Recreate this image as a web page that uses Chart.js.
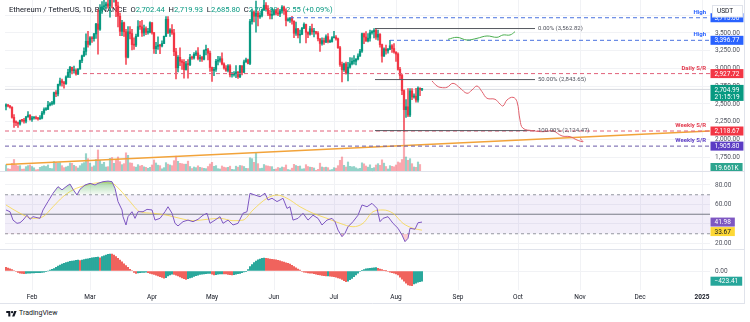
<!DOCTYPE html>
<html>
<head>
<meta charset="utf-8">
<script src="https://cdn.jsdelivr.net/npm/chart.js@4.4.1/dist/chart.umd.min.js"></script>
<style>
  body { margin: 0; background: #fff; }
  #wrap { position: relative; width: 750px; height: 322px; overflow: hidden; font-family: Roboto, sans-serif; }
  #wrap canvas { position: absolute; left: 0; }
  #logo { position: absolute; left: 6px; top: 309px; font-size: 7px; color: #131722; display: flex; align-items: center; gap: 2px; line-height: 8px; }
</style>
</head>
<body>
<div id="wrap">
  <canvas id="priceChart" width="750" height="172" style="top:0"></canvas>
  <canvas id="rsiChart" width="750" height="78" style="top:172px"></canvas>
  <canvas id="macdChart" width="750" height="54" style="top:250px"></canvas>
  <div id="logo"><svg width="11" height="7" viewBox="0 0 36 24"><path d="M14 22H7V10H0V3h14v19zM28 22h-8l7.5-19h8L28 22z" fill="#131722"/><circle cx="20" cy="7" r="4" fill="#131722"/></svg>TradingView</div>
</div>
<script>
// ETH/USDT daily candles, Jan 19 - Aug 14 2024. Day numbers count from Jan 1 = 0
var firstDay = 18;
var prevClose = 2467; // Jan 18 close = open of the first candle
var closes = [
  2489,2470,2455,2311,2241,2236,2218,2268,2267,2257,2317,2344,2283,
  2304,2309,2296,2289,2300,2373,2421,2425,2485,2501,2508,2660,2641,2776,2825,2802,2786,2881,2945,3015,2969,2972,2922,2992,3112,3178,3241,3383,3340,
  3433,3420,3487,3627,3552,3818,3868,3884,3910,3879,4066,3982,4004,3881,3737,3523,3644,3517,3158,3516,3492,3336,3329,3454,3590,3587,3500,3561,3508,3509,3645,
  3504,3279,3311,3330,3317,3352,3454,3694,3505,3544,3501,3236,3009,3157,3102,3086,2985,3066,3055,3155,3147,3200,3219,3140,3155,3130,3256,3263,3215,3014,
  2972,2988,3102,3117,3137,3063,3006,2973,3037,2910,2912,2930,2950,2882,3036,2946,3093,3122,3071,3662,3790,3737,3780,3727,3748,3826,3892,3842,3768,3748,3761,
  3815,3780,3768,3811,3865,3812,3677,3681,3706,3667,3497,3560,3469,3482,3566,3621,3510,3483,3560,3515,3518,3497,3418,3353,3393,3372,3449,3376,3379,3433,
  3441,3418,3293,3056,2982,3066,2931,3019,3066,3101,3101,3132,3175,3245,3490,3443,3388,3427,3505,3517,3536,3441,3480,3336,3174,3275,3248,3271,3320,3281,3232,
  3203,2988,2902,2688,2419,2460,2343,2683,2598,2610,2555,2722,2702.44,2704.99
];
var highs = [
  2503,2490,2479,2461,2350,2262,2245,2272,2285,2296,2324,2392,2348,
  2326,2320,2330,2313,2336,2395,2445,2450,2537,2520,2537,2666,2687,2781,2865,2852,2820,2895,2988,3030,3020,3035,2994,3000,3118,3190,3290,3487,3523,
  3450,3449,3497,3637,3825,3900,3943,3995,3937,3963,4087,4093,4083,4010,3935,3780,3680,3653,3550,3590,3590,3551,3431,3484,3675,3665,3680,3612,3586,3567,3658,
  3647,3511,3370,3445,3340,3390,3457,3730,3730,3562,3618,3552,3285,3180,3290,3125,3125,3100,3125,3200,3176,3225,3250,3293,3190,3170,3262,3330,3285,3245,
  3020,3015,3130,3170,3169,3220,3080,3040,3055,3055,2945,2955,3040,2955,3045,3040,3120,3145,3134,3692,3832,3812,3950,3810,3788,3835,3975,3930,3888,3820,3850,
  3835,3830,3850,3832,3887,3880,3840,3715,3720,3735,3672,3655,3565,3540,3580,3645,3625,3515,3595,3625,3565,3525,3520,3420,3432,3430,3475,3490,3405,3448,
  3524,3464,3430,3312,3090,3075,3090,3085,3155,3150,3180,3140,3208,3270,3500,3500,3520,3490,3540,3535,3562,3562,3540,3490,3345,3290,3330,3285,3397,3335,3350,
  3235,3220,3015,2920,2700,2560,2715,2718,2715,2643,2720,2740,2728,2719.93
];
var lows = [
  2415,2457,2440,2301,2168,2193,2170,2200,2248,2229,2233,2315,2270,
  2255,2284,2287,2270,2282,2290,2351,2408,2420,2474,2482,2495,2601,2613,2753,2750,2721,2776,2870,2870,2924,2935,2905,2911,2990,3083,3165,3190,3300,
  3330,3367,3384,3425,3200,3538,3777,3830,3845,3850,3724,3852,3935,3730,3585,3464,3462,3451,3056,3150,3415,3261,3270,3307,3453,3550,3450,3460,3475,3485,3500,
  3484,3212,3207,3270,3210,3305,3350,3447,3490,3450,3480,3180,2852,2950,3040,2985,2865,2975,2865,3040,3126,3130,3180,3120,3100,3100,3120,3190,3120,2960,
  2817,2900,2960,3050,3090,3050,2990,2960,2950,2880,2879,2890,2870,2860,2870,2910,2942,3085,3065,3055,3625,3655,3510,3600,3705,3725,3820,3830,3744,3700,3700,
  3750,3755,3745,3730,3780,3762,3600,3665,3650,3625,3435,3465,3430,3360,3475,3560,3360,3435,3470,3480,3445,3482,3390,3240,3330,3340,3364,3360,3362,3372,
  3430,3400,3282,3030,2810,2960,2920,2825,3005,3050,3060,3051,3120,3170,3225,3350,3380,3375,3385,3485,3432,3410,3400,3300,3088,3170,3200,3215,3265,3225,3215,
  3100,2975,2850,2630,2111,2310,2320,2320,2560,2580,2525,2525,2615,2685.80
];
// volume, thousand ETH
var volumes = [
  430,200,170,520,750,420,360,380,170,180,320,380,420,
  330,250,130,150,280,330,370,330,420,220,200,630,560,540,560,380,260,300,350,540,520,400,330,240,380,500,560,1100,800,
  530,300,370,750,1320,700,470,580,300,320,820,870,520,720,900,620,440,500,1150,1000,550,530,320,290,440,360,400,310,280,220,280,
  420,720,540,410,380,190,260,560,470,420,380,680,950,640,520,500,470,470,650,330,210,300,260,370,280,250,220,200,330,480,
  580,340,380,200,180,360,290,260,280,350,160,140,350,290,390,370,330,220,210,850,800,580,1150,500,210,230,450,380,360,330,320,
  160,180,270,230,300,270,420,150,120,230,460,390,340,360,180,200,440,330,290,280,240,100,160,530,300,270,290,260,120,150,
  260,230,380,700,900,400,300,600,340,310,330,250,190,220,550,490,360,290,430,220,260,420,500,400,730,530,330,180,380,340,310,
  420,600,550,750,2400,900,700,800,500,300,280,600,450,19.661
];
var macdHist = [
  150,120,90,60,20,-20,-60,-90,-105,-110,
  -100,-95,-85,-80,-75,-72,-68,-65,-55,-45,
  -25,0,40,70,100,150,200,250,285,315,
  345,375,400,415,425,440,455,430,450,470,
  490,510,530,545,555,565,575,550,600,630,
  660,690,705,700,660,600,530,456,380,300,
  220,150,70,20,-60,-96,-80,-69,-60,-55,
  -50,-70,-100,-120,-140,-170,-205,-235,-265,-300,
  -280,-207,-165,-130,-140,-175,-207,-250,-290,-320,
  -346,-320,-290,-263,-230,-195,-170,-145,-130,-120,
  -110,-100,-96,-130,-160,-150,-135,-124,-118,-122,
  -125,-140,-155,-166,-150,-130,-110,-96,-70,-40,
  -10,60,180,270,350,410,460,498,525,540,
  530,515,498,485,470,460,445,420,395,365,
  340,315,290,240,180,130,80,42,-20,-45,
  -60,-75,-85,-95,-110,-130,-150,-166,-180,-195,
  -207,-200,-210,-220,-240,-260,-285,-304,-350,-400,
  -443,-420,-360,-304,-240,-160,-90,-20,30,60,
  85,100,111,125,135,138,110,83,60,30,
  5,-20,-45,-65,-90,-120,-166,-260,-340,-420,
  -500,-581,-600,-609,-540,-500,-465,-440,-423.41
];
var rsiDays = [18,20,21.5,23.5,25,26.5,28.5,30,31.5,35,36.5,39,41.5,44,46,48.5,50,51.5,53.5,55,57.5,60,62.5,64,66.5,69,71,72.5,74,76,76.5,78,79,81,82.5,84,86.5,88.5,91,92.5,95,97.5,99,101,102.5,104,106.5,109,111.5,114,116.5,118.5,120,122.5,125,126.5,129,131.5,134,136.5,138.5,140,142.5,145,147.5,149,151,153.5,155,156.5,158.5,160,161.5,164,166.5,169,171.5,174,176,178.5,181,182.5,184,186,187.5,189,191.5,194,196,198.5,201,203.5,205,206.5,209,211.5,214,216,217.5,219,220,222.5,224,226];
var rsiValues = [54.4,52.6,44,40.7,41.3,44,49,44.8,47.5,45.8,54.4,63,71.5,78.3,75,79,81,75.6,69.7,75.6,80,81.7,80,81.7,83.4,84,83.4,76.6,63,54.4,47.5,39,47.5,52.6,45.8,52.6,52.6,55,54.4,44,45.8,52.6,57.7,51,40.7,38,42.4,44,42.4,44.8,49,51,40.7,44,47.5,40.7,44,39,40.7,51,52.6,71.5,69.7,68,71.5,64.6,66.4,63,64.6,66.4,56,57.7,44,45.8,51,44,49,45.8,39,44,45.8,42.4,33.8,27,30.5,37.2,42.4,49,59.5,57.7,61.2,56,42.4,45.8,47.5,40.7,35.6,28.7,21.9,25.3,35.6,34.6,41.3,41.98];
var rsiMaDays = [18,25,31.5,36.5,41.5,46.5,51.5,58.5,65,71,75,80,85,91.5,98.5,105,111.5,118.5,125,131.5,136.5,141.5,148.5,153.5,158.5,165,171.5,178.5,185,191.5,196.5,201.5,206.5,211.5,216.5,221.5,226];
var rsiMaValues = [59.5,51,45.8,47.5,57.7,68,75,80,82.4,81.7,75,63,52.6,51,49,45.8,43.4,44.8,45.8,43.4,44,54.4,66.4,69.7,66.4,57.7,51,45.8,40.7,37.2,40.7,52.6,54.4,51,40.7,35.6,33.67];
var rsiLevels = [70, 50, 30];

var monthDays = [31,60,91,121,152,182,213,244,274,305,335,366];
var monthLabels = ["Feb","Mar","Apr","May","Jun","Jul","Aug","Sep","Oct","Nov","Dec","2025"];
var priceTicks = [1750,2000,2250,2500,2750,3000,3250,3500,3750];
var rsiTicks = [20,40,60,80];
var macdTicks = [0];

// drawn levels
var levelPrices = [3715, 3396.77, 2927.72, 2118.67, 1905.80];
var levelNames = ["High", "High", "Daily S/R", "Weekly S/R", "Weekly S/R"];
var levelStartDays = [160, 210, 56.5, 17.5, 17.5];
var fibPrices = [3562.82, 2843.65, 2124.47];
var fibNames = ["0.00%", "50.00%", "100.00%"];
var fibDays = [202.5, 282.5];
var trendDays = [18, 370];
var trendPrices = [1647, 2119];
var pathDays = [231,233.5,235.5,238.5,241.5,245,248.5,251,253.5,256,258.5,262.5,265,266.5,268.5,271.5,273.5,275,276.5,281.5,286.5,291.5,296,300,303.5,306.5,305];
var pathPrices = [2824,2753,2732,2735,2791,2725,2650,2697,2753,2673,2580,2566,2499,2471,2556,2594,2532,2274,2157,2123,2109,2119,2049,2039,1992,1968,2013];
var greenDays = [239,243.5,248.5,253.5,258.5,263.5,266.5,270,272.5];
var greenPrices = [3411,3439,3401,3425,3458,3439,3472,3472,3518];
var countdown = "21:15:19";

var FONT = 'Roboto, "Noto Sans", sans-serif';
var UP = '#089981', DOWN = '#f23645';
var levelLineColors = ['#4a72e0', '#4a72e0', '#e2607a', '#e2607a', '#6a5aa8'];
var levelTagColors = ['#2962ff', '#2962ff', '#f23645', '#f23645', '#5b3cc4'];
var levelTextColors = ['#2962ff', '#2962ff', '#e23a4e', '#e23a4e', '#5b3cc4'];
var X_MIN = 17.5, X_MAX = 370;

Chart.defaults.font.family = FONT;
Chart.defaults.font.size = 6.5;
Chart.defaults.color = '#50535e';

var opens = closes.map(function (c, i) { return i === 0 ? prevClose : closes[i - 1]; });
var last = closes.length - 1;
function isUp(i) { return closes[i] >= opens[i]; }
function fmt(v) { return v.toLocaleString('en-US', { minimumFractionDigits: 2, maximumFractionDigits: 2 }); }
function hline(x0, x1, y) { return [{ x: x0, y: y }, { x: x1, y: y }]; }
function pairs(xs, ys) { return xs.map(function (x, i) { return { x: x, y: ys[i] }; }); }
// no automatic label padding: every pane uses its full canvas height
function noPad(s) { s.paddingTop = 0; s.paddingBottom = 0; s.paddingLeft = 0; s.paddingRight = 0; }

function xAxis(labels) {
  return {
    type: 'linear', min: X_MIN, max: X_MAX, offset: false,
    afterBuildTicks: function (s) { s.ticks = monthDays.map(function (v) { return { value: v }; }); },
    grid: { color: '#f1f2f5', drawTicks: false, offset: false },
    border: { display: false },
    ticks: labels ? {
      padding: 3, color: '#131722', maxRotation: 0, autoSkip: false,
      callback: function (v) { return monthLabels[monthDays.indexOf(v)]; },
      font: function (c) { return { family: FONT, size: 6.5, weight: (c.tick && c.tick.value === 366) ? 'bold' : 'normal' }; }
    } : { display: false },
    afterFit: function (s) { s.height = labels ? 14 : 0; noPad(s); }
  };
}
function yAxis(min, max, ticks, fmtFn) {
  return {
    position: 'right', min: min, max: max,
    afterBuildTicks: function (s) { s.ticks = ticks.map(function (v) { return { value: v }; }); },
    ticks: { padding: 5, color: '#50535e', callback: fmtFn },
    grid: { color: '#f1f2f5', drawTicks: false },
    border: { display: false },
    afterFit: function (s) { s.width = 40; noPad(s); }
  };
}
var paneLayout = { autoPadding: false, padding: { left: 5, right: 0, top: 0, bottom: 0 } };

function tag(ctx, y, lines, bg, fg) {
  ctx.font = '6.5px ' + FONT;
  var w = Math.max.apply(null, lines.map(function (t) { return ctx.measureText(t).width; })) + 8;
  var h = 9 + (lines.length - 1) * 7;
  ctx.fillStyle = bg;
  ctx.fillRect(710.5, y - 4.5, w, h);
  ctx.fillStyle = fg;
  ctx.textAlign = 'left';
  ctx.textBaseline = 'middle';
  lines.forEach(function (t, i) { ctx.fillText(t, 714.5, y + i * 7 + 0.5); });
}
function framePlugin(bottom) {
  return {
    id: 'frame',
    afterDraw: function (chart) {
      var ctx = chart.ctx;
      ctx.save();
      ctx.strokeStyle = '#e0e3eb';
      ctx.lineWidth = 1;
      ctx.beginPath();
      ctx.moveTo(0, bottom); ctx.lineTo(744.5, bottom);
      ctx.moveTo(744.5, 0); ctx.lineTo(744.5, chart.height);
      ctx.stroke();
      ctx.restore();
    }
  };
}

// ---------- price pane ----------
var priceDecor = {
  id: 'priceDecor',
  beforeDatasetsDraw: function (chart) {
    var ctx = chart.ctx;
    var chg = closes[last] - closes[last - 1];
    var sign = chg >= 0 ? '+' : '';
    var parts = [
      ['Ethereum / TetherUS, 1D, BINANCE', '#131722'],
      ['  O', '#131722'], [fmt(opens[last]), UP],
      ['  H', '#131722'], [fmt(highs[last]), UP],
      ['  L', '#131722'], [fmt(lows[last]), UP],
      ['  C', '#131722'], [fmt(closes[last]), UP],
      ['  ' + sign + fmt(chg) + ' (' + sign + (chg / closes[last - 1] * 100).toFixed(2) + '%)', UP]
    ];
    ctx.save();
    ctx.font = '7.6px ' + FONT;
    ctx.textBaseline = 'middle';
    var x = 9;
    parts.forEach(function (p) { ctx.fillStyle = p[1]; ctx.fillText(p[0], x, 10); x += ctx.measureText(p[0]).width; });
    ctx.restore();
  },
  afterDatasetsDraw: function (chart) {
    var ctx = chart.ctx, ys = chart.scales.y, xs = chart.scales.x;
    ctx.save();
    ctx.font = 'bold 6px ' + FONT;
    ctx.textAlign = 'right';
    ctx.textBaseline = 'middle';
    levelPrices.forEach(function (p, k) {
      ctx.fillStyle = levelTextColors[k];
      ctx.fillText(levelNames[k], 706, ys.getPixelForValue(p) - 5.5);
    });
    ctx.font = '6px ' + FONT;
    ctx.textAlign = 'left';
    ctx.fillStyle = '#50535e';
    var fx = xs.getPixelForValue(fibDays[1]) + 3;
    fibPrices.forEach(function (p, k) {
      ctx.fillText(fibNames[k] + ' (' + fmt(p) + ')', fx, ys.getPixelForValue(p));
    });
    ctx.restore();
  },
  afterDraw: function (chart) {
    var ctx = chart.ctx, ys = chart.scales.y, yv = chart.scales.yv;
    ctx.save();
    levelPrices.forEach(function (p, k) {
      if (k === 3) tag(ctx, ys.getPixelForValue(closes[last]), [fmt(closes[last]), countdown], UP, '#fff');
      tag(ctx, ys.getPixelForValue(p), [fmt(p)], levelTagColors[k], '#fff');
    });
    var vy = Math.min(yv.getPixelForValue(volumes[last]), chart.chartArea.bottom - 4.5);
    tag(ctx, vy, [volumes[last].toFixed(3) + 'K'], '#2ea58f', '#fff');
    // currency box
    ctx.fillStyle = '#fff';
    ctx.strokeStyle = '#e0e3eb';
    ctx.fillRect(712.5, 5, 30, 12);
    ctx.strokeRect(712.5, 5.5, 30, 11.5);
    ctx.fillStyle = '#131722';
    ctx.font = '6.5px ' + FONT;
    ctx.textBaseline = 'middle';
    ctx.fillText('USDT', 717, 11.5);
    ctx.restore();
  }
};

var priceSets = [];
priceSets.push({ type: 'line', data: hline(X_MIN, X_MAX, closes[last]), borderColor: '#d6d8de', borderWidth: 1, pointRadius: 0, order: 9 });
priceSets.push({
  type: 'bar', yAxisID: 'yv', order: 10, grouped: false, barThickness: 1.5,
  data: volumes.map(function (v, i) { return { x: firstDay + i, y: v }; }),
  backgroundColor: function (c) { return isUp(c.dataIndex) ? 'rgba(8,153,129,0.42)' : 'rgba(242,54,69,0.42)'; }
});
priceSets.push({ type: 'line', data: pairs(trendDays, trendPrices), borderColor: '#f2a33a', borderWidth: 1.3, pointRadius: 0, order: 7 });
priceSets.push({
  type: 'bar', order: 5, grouped: false, barThickness: 0.8,
  data: closes.map(function (c, i) { return { x: firstDay + i, y: [lows[i], highs[i]] }; }),
  backgroundColor: function (c) { return isUp(c.dataIndex) ? UP : DOWN; }
});
priceSets.push({
  type: 'bar', order: 4, grouped: false, barThickness: 1.6, minBarLength: 1,
  data: closes.map(function (c, i) { return { x: firstDay + i, y: [opens[i], c] }; }),
  backgroundColor: function (c) { return isUp(c.dataIndex) ? UP : DOWN; }
});
levelPrices.forEach(function (p, k) {
  priceSets.push({ type: 'line', data: hline(levelStartDays[k], X_MAX, p), borderColor: levelLineColors[k], borderDash: [4, 3], borderWidth: 1, pointRadius: 0, order: 2 });
});
fibPrices.forEach(function (p) {
  priceSets.push({ type: 'line', data: hline(fibDays[0], fibDays[1], p), borderColor: '#55585f', borderWidth: 1, pointRadius: 0, order: 1 });
});
priceSets.push({ type: 'line', data: pairs(pathDays, pathPrices), borderColor: '#e0606c', borderWidth: 1, pointRadius: 0, tension: 0.4, order: 0 });
priceSets.push({ type: 'line', data: pairs(greenDays, greenPrices), borderColor: '#4caf50', borderWidth: 1, pointRadius: 0, tension: 0.4, order: 0 });

new Chart(document.getElementById('priceChart'), {
  type: 'bar',
  data: { datasets: priceSets },
  options: {
    responsive: false, animation: false, events: [],
    layout: paneLayout,
    plugins: { legend: { display: false }, tooltip: { enabled: false } },
    scales: {
      x: xAxis(false),
      y: yAxis(1541, 3965, priceTicks, function (v) { return fmt(v); }),
      yv: { display: false, min: 0, max: 10320 }
    }
  },
  plugins: [priceDecor, framePlugin(171.5)]
});

// ---------- RSI pane ----------
var rctx = document.getElementById('rsiChart').getContext('2d');
var obFill = rctx.createLinearGradient(0, 8, 0, 23);
obFill.addColorStop(0, 'rgba(76,175,80,0.55)');
obFill.addColorStop(1, 'rgba(76,175,80,0.04)');

var rsiTags = {
  id: 'rsiTags',
  afterDraw: function (chart) {
    var ys = chart.scales.y, ctx = chart.ctx;
    var y1 = ys.getPixelForValue(rsiValues[rsiValues.length - 1]);
    var y2 = Math.max(ys.getPixelForValue(rsiMaValues[rsiMaValues.length - 1]), y1 + 9.5);
    ctx.save();
    tag(ctx, y1, [rsiValues[rsiValues.length - 1].toFixed(2)], '#7e57c2', '#fff');
    tag(ctx, y2, [rsiMaValues[rsiMaValues.length - 1].toFixed(2)], '#fdd835', '#131722');
    ctx.restore();
  }
};

new Chart(rctx, {
  type: 'line',
  data: {
    datasets: [
      { data: hline(X_MIN, X_MAX, rsiLevels[0]), borderColor: '#9598a1', borderDash: [3, 3], borderWidth: 1, pointRadius: 0, fill: '+1', backgroundColor: 'rgba(126,87,194,0.1)', order: 6 },
      { data: hline(X_MIN, X_MAX, rsiLevels[2]), borderColor: '#9598a1', borderDash: [3, 3], borderWidth: 1, pointRadius: 0, fill: false, order: 5 },
      { data: hline(X_MIN, X_MAX, rsiLevels[1]), borderColor: '#787b86', borderWidth: 1, pointRadius: 0, fill: false, order: 4 },
      { data: pairs(rsiMaDays, rsiMaValues), borderColor: 'rgba(247,213,60,0.75)', borderWidth: 1, pointRadius: 0, cubicInterpolationMode: 'monotone', fill: false, order: 3 },
      { data: pairs(rsiDays, rsiValues), borderWidth: 0, pointRadius: 0, fill: { target: { value: rsiLevels[2] }, above: 'rgba(0,0,0,0)', below: 'rgba(242,54,69,0.25)' }, order: 2 },
      { data: pairs(rsiDays, rsiValues), borderColor: '#7e57c2', borderWidth: 1, pointRadius: 0, fill: { target: { value: rsiLevels[0] }, above: obFill, below: 'rgba(0,0,0,0)' }, order: 1 }
    ]
  },
  options: {
    responsive: false, animation: false, events: [],
    layout: paneLayout,
    plugins: { legend: { display: false }, tooltip: { enabled: false } },
    scales: {
      x: xAxis(false),
      y: yAxis(13.333, 93.333, rsiTicks, function (v) { return fmt(v); })
    }
  },
  plugins: [rsiTags, framePlugin(77.5)]
});

// ---------- MACD histogram pane ----------
var macdTag = {
  id: 'macdTag',
  afterDraw: function (chart) {
    var v = macdHist[macdHist.length - 1];
    chart.ctx.save();
    tag(chart.ctx, chart.scales.y.getPixelForValue(v), [fmt(v).replace('-', '\u2212')], '#26a69a', '#fff');
    chart.ctx.restore();
  }
};

new Chart(document.getElementById('macdChart'), {
  type: 'bar',
  data: {
    datasets: [{
      grouped: false, barThickness: 1.3,
      data: macdHist.map(function (v, i) { return { x: firstDay + i, y: v }; }),
      backgroundColor: function (c) {
        var i = c.dataIndex;
        return (i > 0 && macdHist[i] >= macdHist[i - 1]) ? '#26a69a' : '#f0605a';
      }
    }]
  },
  options: {
    responsive: false, animation: false, events: [],
    layout: paneLayout,
    plugins: { legend: { display: false }, tooltip: { enabled: false } },
    scales: {
      x: xAxis(true),
      y: yAxis(-788.5, 871.5, macdTicks, function (v) { return fmt(v); })
    }
  },
  plugins: [macdTag, framePlugin(53.5)]
});
</script>
</body>
</html>
